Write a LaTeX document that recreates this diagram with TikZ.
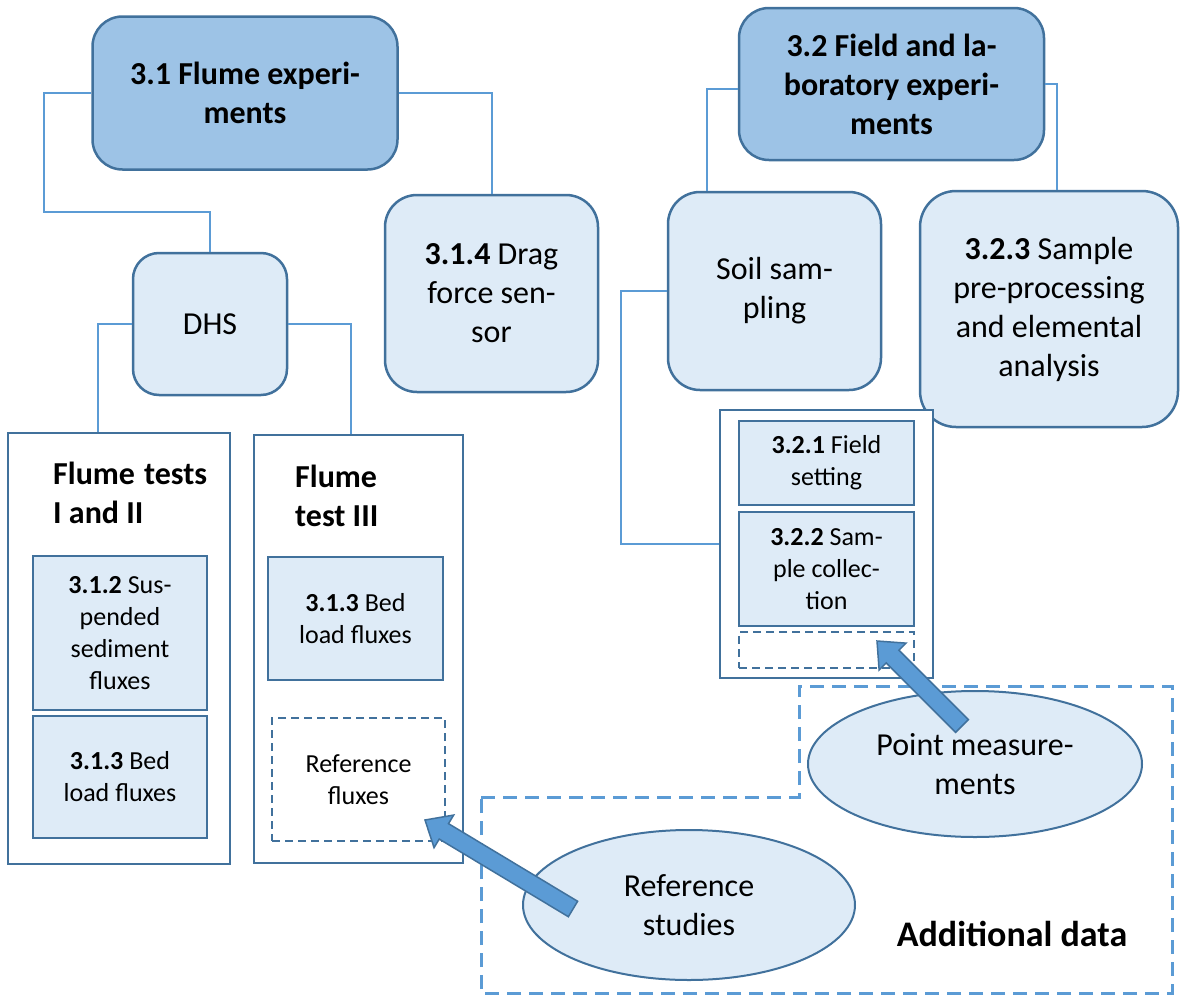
\documentclass[tikz,border=0pt]{standalone}
\usepackage{fontspec}
\setmainfont{Carlito}
\usetikzlibrary{calc,shapes.geometric}
\definecolor{dk}{HTML}{9DC3E6}
\definecolor{lt}{HTML}{DEEBF7}
\definecolor{st}{HTML}{41719C}
\definecolor{ln}{HTML}{5B9BD5}
\newcommand\szA{\fontsize{32}{39}\selectfont}
\newcommand\szB{\fontsize{26}{32}\selectfont}
\newcommand\blkarrow[2]{%
  \coordinate (hh) at ($(#2)!22pt!(#1)$);
  \draw[barrow] ($(#1)!9pt!90:(#2)$) -- ($(hh)!9pt!-90:(#1)$) -- ($(hh)!19pt!-90:(#1)$) -- (#2)
     -- ($(hh)!19pt!90:(#1)$) -- ($(hh)!9pt!90:(#1)$) -- ($(#1)!9pt!-90:(#2)$) -- cycle;}
\begin{document}
\begin{tikzpicture}[x=1pt,y=-1pt,
  rbox/.style={draw=st, line width=2.5pt, fill=lt, align=center, inner sep=0pt, font=\szA},
  hbox/.style={rbox, fill=dk, font=\szA\bfseries},
  sbox/.style={draw=st, line width=2.5pt, fill=lt, align=center, inner sep=0pt, font=\szB},
  cbox/.style={draw=st, line width=2.5pt, fill=white, inner sep=0pt},
  dbox/.style={draw=st, line width=2pt, dash pattern=on 8pt off 5pt, align=center, inner sep=0pt, font=\szB},
  ell/.style={draw=st, line width=2pt, fill=lt, ellipse, align=center, inner sep=0pt, font=\szA},
  conn/.style={draw=ln, line width=2pt},
  barrow/.style={draw=st, line width=1.5pt, fill=ln, line join=miter},
  ttl/.style={align=left, inner sep=0pt, font=\szA\bfseries, anchor=west}
]
\useasboundingbox (0,0) rectangle (1181,996);

% nodes
\node[hbox, rounded corners=30pt, minimum width=305pt, minimum height=153pt] (t31) at (245,93)
  {3.1 Flume experi-\\ments};
\node[rbox, rounded corners=32pt, minimum width=213pt, minimum height=197pt] (n314) at (491.5,293.5)
  {\textbf{3.1.4} Drag\\force sen-\\sor};
\node[rbox, rounded corners=26pt, minimum width=154pt, minimum height=142pt] (dhs) at (210,324) {DHS};

\node[cbox, minimum width=222pt, minimum height=431pt] (ft12) at (119,648.5) {};
\node[cbox, minimum width=209pt, minimum height=428pt] (ft3) at (358.5,649) {};
\node[ttl] (ft12t) at (53,492.5) {Flume\hspace{9pt}tests\\I and II};
\node[ttl] (ft3t) at (295,496) {Flume\\test III};

\node[sbox, minimum width=174pt, minimum height=154pt] (b312) at (120,633)
  {\textbf{3.1.2} Sus-\\pended\\sediment\\fluxes};
\node[sbox, minimum width=174pt, minimum height=122pt] (b313a) at (120,777)
  {\textbf{3.1.3} Bed\\load fluxes};
\node[sbox, minimum width=175pt, minimum height=123pt] (b313b) at (355.5,618.5)
  {\textbf{3.1.3} Bed\\load fluxes};
\node[dbox, minimum width=173pt, minimum height=123pt] (reff) at (358.5,779.5)
  {Reference\\fluxes};

\node[hbox, rounded corners=30pt, minimum width=305pt, minimum height=152pt] (t32) at (891.5,84)
  {3.2 Field and la-\\boratory experi-\\ments};
\node[rbox, rounded corners=32pt, minimum width=213pt, minimum height=198pt] (soil) at (774.5,291)
  {Soil sam-\\pling};
\node[rbox, rounded corners=36pt, minimum width=258pt, minimum height=236pt] (n323) at (1049,309)
  {\textbf{3.2.3} Sample\\pre-processing\\and elemental\\analysis};

\node[cbox, minimum width=213pt, minimum height=268pt] (cont) at (826.5,544) {};
\node[sbox, minimum width=175pt, minimum height=84pt] (b321) at (826.5,463)
  {\textbf{3.2.1} Field\\setting};
\node[sbox, minimum width=175pt, minimum height=114pt] (b322) at (826.5,569)
  {\textbf{3.2.2} Sam-\\ple collec-\\tion};
\node[dbox, minimum width=175pt, minimum height=36pt] (dsh) at (826.5,650) {};

% connectors
\draw[conn] (t31.west) -- (44,93) |- (210,212) -- (dhs.north);
\draw[conn] (t31.east) -| (n314.north);
\draw[conn] (dhs.west) -| ([xshift=-21pt]ft12.north);
\draw[conn] (dhs.east) -| ([xshift=-8pt]ft3.north);
\draw[conn] ([yshift=-5pt]t32.west) -| ([xshift=-68pt]soil.north);
\draw[conn] (t32.east) -| ([xshift=8pt]n323.north);
\draw[conn] (soil.west) -- (621,291) |- (cont.west);

% additional data region
\draw[ln, line width=3pt, dash pattern=on 14pt off 8pt]
  (481,797) -- (799,797) -- (799,686) -- (1172,686) -- (1172,993) -- (481,993) -- cycle;
\node[font=\fontsize{36}{42}\selectfont\bfseries, inner sep=0pt] (add) at (1012,934) {Additional data};

\node[ell, minimum width=334pt, minimum height=146pt] (pm) at (975,764) {Point measure-\\ments};
\node[ell, minimum width=332pt, minimum height=150pt] (rs) at (689,905) {Reference\\studies};

% block arrows
\coordinate (a1) at (573,909);
\coordinate (tip1) at (425,820);
\coordinate (a2) at (962,726);
\coordinate (tip2) at (877,641);
\blkarrow{a1}{tip1}
\blkarrow{a2}{tip2}
\end{tikzpicture}
\end{document}
